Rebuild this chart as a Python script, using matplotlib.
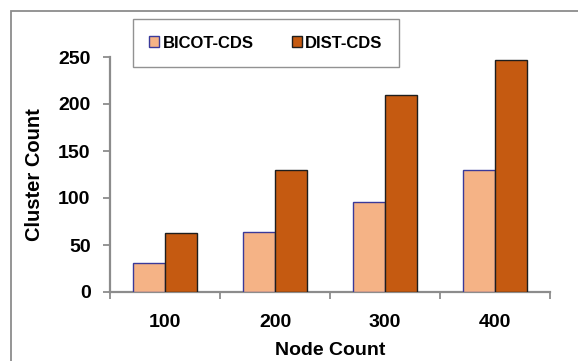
import matplotlib.pyplot as plt
import numpy as np
from matplotlib.patches import Patch, Rectangle

categories = ["100", "200", "300", "400"]
bicot_cds = [31, 64, 96, 130]
dist_cds = [63, 130, 210, 247]
y_ticks = [0, 50, 100, 150, 200, 250]

plt.rcParams["font.family"] = ["Liberation Sans", "DejaVu Sans"]
plt.rcParams["font.weight"] = "bold"

fig = plt.figure(figsize=(5.78, 3.61), dpi=100)
ax = fig.add_axes([110 / 578, 1 - 292 / 361, 440 / 578, 235 / 361])

# outer chart frame (cut off at right and bottom)
fig.patches.append(Rectangle((11 / 578, -0.1), 1.2, 1 - 11 / 361 + 0.1,
                             transform=fig.transFigure, fill=False,
                             edgecolor="#8c8c8c", linewidth=1.3))

x = np.arange(len(categories))
w = 0.29
ax.bar(x - w / 2, bicot_cds, w, color="#F5B386", edgecolor="#3a3a9a",
       linewidth=1.0, zorder=3)
ax.bar(x + w / 2, dist_cds, w, color="#C55A11", edgecolor="#1e1e1e",
       linewidth=1.0, zorder=3)

ax.set_xlim(-0.5, 3.5)
ax.set_ylim(0, 250)
ax.set_yticks(y_ticks)
ax.set_xticks(x)
ax.set_xticklabels(categories)
ax.set_xticks([-0.5, 0.5, 1.5, 2.5, 3.5], minor=True)
ax.tick_params(axis="x", which="major", length=0, pad=16, labelsize=14)
ax.tick_params(axis="x", which="minor", length=5, width=1.3,
               color="#8c8c8c", direction="out")
ax.tick_params(axis="y", length=5, width=1.3, color="#8c8c8c",
               pad=9, labelsize=14)

for s in ["top", "right"]:
    ax.spines[s].set_visible(False)
for s in ["left", "bottom"]:
    ax.spines[s].set_color("#8c8c8c")
    ax.spines[s].set_linewidth(1.6)

ax.set_xlabel("Node Count", fontsize=14, fontweight="bold", labelpad=8)
ax.set_ylabel("Cluster Count", fontsize=14.5, fontweight="bold", labelpad=10)

handles = [
    Patch(facecolor="#F5B386", edgecolor="#3a3a9a", label="BICOT-CDS"),
    Patch(facecolor="#C55A11", edgecolor="#1e1e1e", label="DIST-CDS"),
]
leg = fig.legend(handles=handles, loc="center",
                 bbox_to_anchor=(266 / 578, 1 - 43 / 361), ncol=2,
                 fontsize=12, frameon=True, fancybox=False,
                 handlelength=0.6, handleheight=0.6, handletextpad=0.2,
                 columnspacing=2.3, borderpad=1.0, borderaxespad=0)
leg.get_frame().set_edgecolor("#777777")
leg.get_frame().set_linewidth(1.0)
for t in leg.get_texts():
    t.set_fontweight("bold")

fig.savefig("out.png", dpi=100)
